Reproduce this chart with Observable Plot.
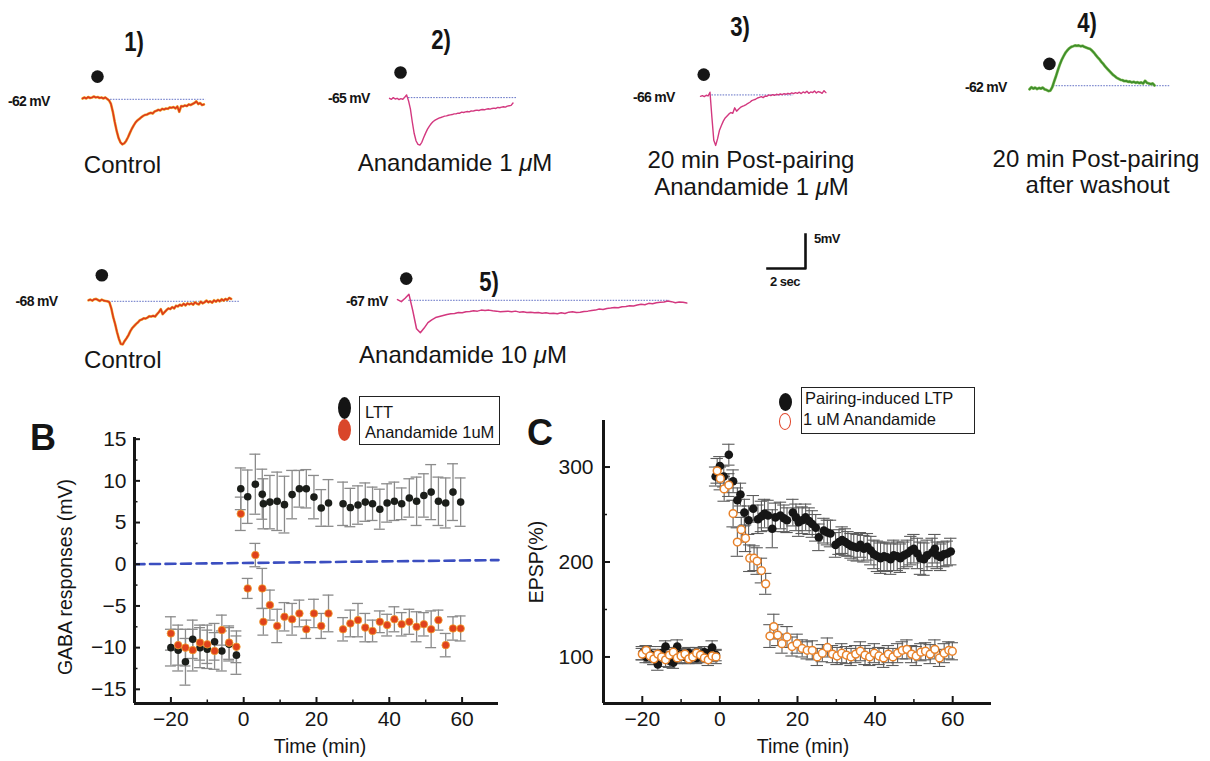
<!DOCTYPE html>
<html>
<head>
<meta charset="utf-8">
<script src="https://cdn.jsdelivr.net/npm/d3@7"></script>
<script src="https://cdn.jsdelivr.net/npm/@observablehq/plot@0.6"></script>
<style>
html,body{margin:0;padding:0;background:#fff;}
#fig{position:relative;width:1210px;height:761px;overflow:hidden;background:#fff;font-family:"Liberation Sans",Arial,Helvetica,sans-serif;color:#151515;}
#fig svg{position:absolute;overflow:visible;}
.t{position:absolute;white-space:nowrap;line-height:1;}
.c{transform:translate(-50%,-50%);}
.l{transform:translate(0,-50%);}
.cap{font-size:24px;line-height:0.88;}
.num{font-size:27px;font-weight:bold;transform:translate(-50%,-50%) scaleX(0.82);}
.mv{font-size:14px;font-weight:bold;letter-spacing:-0.7px;}
.sb{font-size:13px;font-weight:bold;letter-spacing:-0.5px;}
.ax{font-size:19.5px;}
.rot{transform:translate(-50%,-50%) rotate(-90deg);}
.let{font-size:36px;font-weight:bold;}
.leg{font-size:16.5px;}
.box{position:absolute;border:1.3px solid #222;box-sizing:border-box;}
.ell{position:absolute;border-radius:50%;box-sizing:border-box;}
</style>
</head>
<body>
<div id="fig"></div>
<script>
// ---------------- DATA: example traces (mV relative to rest, sampled every dt seconds) ----------------
const ctl1Dt = 0.1;
const ctl1 = [-0.03,0.12,-0.03,0.19,0.04,0.12,0.26,0.12,0.19,0.04,0.12,-0.03,0.12,-0.1,-0.32,
  -0.84,-2.0,-3.5,-4.8,-5.85,-6.5,-6.8,-6.65,-6.3,-5.75,-5.1,-4.5,-4.0,-3.55,-3.25,
  -3.05,-2.8,-2.6,-2.45,-2.4,-2.25,-2.15,-2.25,-1.95,-1.85,-1.7,-1.8,-1.55,-1.65,-1.5,
  -1.55,-1.35,-1.4,-1.3,-1.5,-1.2,-2.0,-1.15,-1.2,-1.05,-1.15,-0.9,-1.0,-0.85,-0.7,
  -0.45,-0.85,-0.7,-1.0,-0.9];
const ana1Dt = 0.1;
const ana1 = [0,-0.15,0.1,-0.1,0,-0.2,-0.05,-0.15,0.15,0.5,-0.35,-1.56,-3.5,-5.2,-6.3,-6.8,-6.9,-6.5,-5.8,-5.14,
  -4.55,-4.1,-3.72,-3.43,-3.23,-3.08,-2.93,-2.84,-2.74,-2.64,-2.6,-2.5,-2.45,-2.4,-2.3,-2.3,-2.2,-2.2,-2.05,-2.1,
  -2.0,-1.95,-2.0,-1.85,-1.9,-1.8,-1.75,-1.8,-1.7,-1.65,-1.7,-1.6,-1.55,-1.6,-1.5,-1.45,-1.5,-1.35,-1.4,-1.3,
  -1.25,-1.3,-1.15,-1.1,-1.05,-0.7];
const postAnaDt = 0.1;
const postAna = [0,0.1,-0.05,0.15,0.05,0.6,-3.1,-6.5,-7.25,-6.25,-5.0,-4.3,-3.67,-3.2,-2.9,-2.6,-2.4,-2.5,-1.7,-2.2,
  -1.9,-1.65,-1.5,-1.37,-1.22,-1.03,-0.88,-0.64,-0.54,-0.44,-0.25,-0.15,-0.05,-0.2,0.05,0,0.2,0.1,0.25,0.15,
  0.3,0.2,0.34,0.25,0.4,0.3,0.44,0.34,0.5,0.4,0.54,0.44,0.6,0.4,0.64,0.5,0.74,0.44,0.64,0.54,
  0.79,0.5,0.7,0.6,0.44,0.83,0.54];
const washDt = 0.1;
const wash = [-0.15,0.15,-0.05,0.1,-0.1,0.05,-0.05,0.1,-0.15,-0.25,-0.4,-0.35,0.15,1.0,1.8,2.7,3.5,4.2,4.75,5.25,
  5.6,5.9,6.1,6.2,6.32,6.27,6.32,6.2,6.27,6.1,6.0,5.9,5.8,5.55,5.25,4.9,4.55,4.26,3.87,3.57,
  3.2,2.9,2.6,2.3,2.0,1.8,1.55,1.4,1.25,1.2,1.06,1.1,0.96,1.0,0.86,0.96,0.81,0.9,0.76,0.86,
  0.71,1.1,0.81,0.71,0.61,0.71,0.42];
const ctl2Dt = 0.1;
const ctl2 = [0,0.1,-0.05,0.15,0.2,0.05,-0.1,0.1,-0.05,-0.1,-0.15,
  -0.3,-1.2,-2.5,-3.5,-4.7,-5.7,-6.45,-6.5,-6.0,-5.6,-5.15,-4.55,-4.1,-3.8,-3.5,-3.25,-2.95,-2.85,-2.65,-2.7,
  -2.55,-2.35,-2.4,-2.3,-2.4,-2.05,-1.75,-1.3,-2.05,-1.75,-1.45,-1.2,-1.3,-1.0,-1.2,-0.8,-0.9,-0.65,-0.8,-0.5,
  -0.75,-0.45,-0.6,-0.45,-0.65,-0.3,-0.5,-0.6,-0.2,-0.45,-0.3,-0.05,-0.3,-0.15,-0.35,0,-0.2,0.05,-0.15,0.15,
  -0.05,0.2,0.05,0.35,0.2];
const ana10Dt = 0.2;
const ana10 = [0.1,-0.2,0.3,0.9,-1.5,-4.2,-4.8,-4.1,-3.3,-2.9,-2.55,-2.4,-2.25,-2.1,-2.0,-1.95,-1.8,-1.85,-1.7,-1.65,
  -1.55,-1.6,-1.45,-1.5,-1.45,-1.55,-1.6,-1.7,-1.65,-1.6,-1.7,-1.6,-1.75,-1.7,-1.8,-1.75,-1.85,-1.8,-1.9,-1.85,
  -1.95,-1.9,-2.0,-1.85,-1.95,-1.75,-1.7,-1.8,-1.75,-1.65,-1.6,-1.5,-1.45,-1.3,-1.35,-1.2,-1.15,-1.05,-1.1,-0.95,
  -0.9,-0.8,-0.85,-0.7,-0.6,-0.65,-0.45,-0.5,-0.35,-0.3,-0.25,-0.1,-0.2,-0.35,-0.25,-0.3,-0.4];
// stimulus time (s) and marker level (mV); rest-line start, end (s) and level (mV)
const stimT   = {ctl1:0.79, ana1:0.58, postAna:0.17, wash:1.05, ctl2:0.7, ana10:0.46};
const stimV   = {ctl1:3.2,  ana1:3.8,  postAna:3.2,  wash:3.6,  ctl2:3.7, ana10:3.2};
const restT1  = {ctl1:1.33, ana1:1.0, postAna:0.6, wash:1.26, ctl2:1.08, ana10:0.59};
const restT2  = {ctl1:6.5,  ana1:6.7, postAna:4.9, wash:7.4,  ctl2:7.93, ana10:14.3};
const restV   = {ctl1:-0.15,ana1:0.1, postAna:0.2, wash:0.38, ctl2:-0.15, ana10:0};
const restLabels = {ctl1:"-62 mV", ana1:"-65 mV", postAna:"-66 mV", wash:"-62 mV", ctl2:"-68 mV", ana10:"-67 mV"};
const scaleBarSec = [0, 2, 2];
const scaleBarMV  = [0, 0, 5];

// ---------------- DATA: panel B (GABA responses, mV) ----------------
const bPreT  = [-20,-18,-16,-14,-12,-10,-8,-6,-4,-2];
const lttPreM = [-10.0,-10.3,-11.7,-9.0,-10.0,-10.2,-9.3,-10.4,-9.6,-10.9];
const lttPreE = [2.2,2.5,2.8,2.3,2.4,2.3,2.2,2.4,2.0,2.3];
const anaPreM = [-8.3,-9.7,-10.0,-10.3,-9.4,-9.6,-10.4,-7.9,-9.4,-9.9];
const anaPreE = [2.0,2.4,2.2,2.5,2.1,2.3,2.2,1.8,2.0,1.9];
const bPostT = [-0.8,1.1,3.2,5.1,5.4,7.2,9.2,11.2,13.3,15.3,17.2,19.3,21.3,23.3,27.3,29.3,31.4,33.4,35.4,37.4,39.4,41.4,43.4,45.5,47.5,49.5,51.5,53.5,55.5,57.5,59.6];
const lttPostM = [9.05,8.1,9.6,8.4,7.25,7.45,7.55,7.15,8.35,9.05,9.05,8.05,6.75,7.35,7.25,6.8,7.1,7.45,7.25,6.6,7.35,7.55,7.25,7.95,7.55,8.25,8.65,7.55,7.35,8.65,7.45];
const lttPostE = [2.5,3.2,3.6,3.0,3.0,3.2,3.5,3.4,2.9,2.2,2.3,2.6,2.2,2.8,2.6,2.3,2.3,2.3,2.0,2.4,2.3,2.3,1.9,2.3,2.9,2.6,3.3,2.9,3.0,3.4,2.9];
const anaPostM = [6.05,-2.9,1.1,-2.9,-6.9,-4.9,-7.4,-6.3,-6.6,-5.9,-7.8,-5.9,-7.4,-5.9,-7.8,-7.1,-6.7,-7.6,-8.0,-6.9,-7.3,-6.6,-7.2,-6.9,-7.5,-7.2,-7.8,-6.7,-9.7,-7.7,-7.7];
const anaPostE = [2.0,1.2,1.4,2.4,1.6,1.8,2.0,1.7,1.9,1.6,1.1,1.7,1.5,2.2,1.4,1.6,2.0,1.7,1.3,1.3,1.3,1.5,1.4,1.5,1.8,1.4,2.2,1.2,1.4,1.4,1.5];
const zeroRefT = [-30, 70];
const zeroRefV = [0, 0.5];
const B_X = [-30, 70], B_Y = [-16.7, 15.2];
const bXTicks = [-20,0,20,40,60], bXMinor = [-10,10,30,50];
const bYTicks = [-15,-10,-5,0,5,10,15], bYMinor = [-12.5,-7.5,-2.5,2.5,7.5,12.5];

// ---------------- DATA: panel C (EPSP, %) ----------------
const cPreT = [-20,-19,-18,-17,-16,-15,-14,-13,-12,-11,-10,-9,-8,-7,-6,-5,-4,-3,-2,-1];
const ltpPre  = [104,100,103,99,92,104,111,96,94,111,103,100,104,101,99,102,105,104,110,102];
const ltpPreE = [7,6,8,7,6,7,6,7,6,7,6,7,6,7,6,7,6,7,7,6];
const anaCPre  = [103,107,101,98,103,100,97,102,105,99,101,103,98,100,104,102,99,97,101,100];
const anaCPreE = [6,5,7,6,5,6,7,6,5,6,7,6,5,6,6,7,5,6,6,7];
const ltpPostT = [-1.1,0,1.0,2.3,3.4,4.5,5.3,6.3,7.4,8.6,9.8,10.7,11.5,12.4,13.5,14.3,15.6,16.5,17.3,18.8,19.6,20.3,21.2,22.1,23.0,23.8,24.7,25.5,26.8,27.7,28.5,29.8,30.7,31.5,32.3,33.0,33.8,34.5,35.4,36.2,37.1,38.0,38.9,39.7,40.6,41.4,42.3,43.1,44.0,44.8,45.7,46.5,47.4,48.3,49.2,50.0,50.9,51.7,52.6,53.4,54.7,55.4,56.0,56.9,57.7,58.6,59.5];
const ltpPost  = [290,301,290,313,285,265,271,252,244,256,245,248,251,249,235,247,249,246,244,252,247,242,244,247,243,240,236,226,233,231,230,218,221,223,221,219,217,216,215,218,214,216,212,208,206,204,206,205,203,207,206,204,207,209,212,214,209,204,203,207,210,214,207,205,208,209,211];
const ltpPostE = [10,10,11,11,12,13,12,14,15,14,15,16,15,16,20,15,14,14,13,14,14,15,14,14,14,14,14,14,13,13,14,13,13,14,14,13,13,14,14,13,14,14,15,15,16,16,15,15,16,16,15,15,14,14,15,15,16,17,17,16,15,15,14,14,13,13,14];
const anaCPostT = [-0.7,0.1,1.1,2.3,3.4,4.5,5.5,6.6,7.7,8.8,9.6,10.7,11.8,12.9,13.9,14.9,16.0,17.3,18.6,19.9,21.2,22.5,23.8,25.1,26.4,27.7,29.0,30.2,31.4,32.6,33.8,35.0,36.2,37.4,38.6,39.8,41.0,42.2,43.4,44.6,45.8,47.0,48.2,49.4,50.6,51.8,53.0,54.2,55.4,56.6,57.8,59.0,59.9];
const anaCPost  = [296,288,277,281,251,221,234,225,204,204,201,191,177,122,132,123,114,121,111,114,109,107,107,100,104,110,103,101,104,102,100,103,106,102,100,104,101,99,103,100,104,107,108,103,101,105,106,103,108,99,104,107,106];
const anaCPostE = [13,12,13,12,14,15,13,14,14,13,14,13,11,12,13,11,10,11,10,10,9,9,10,9,9,10,9,9,10,9,9,9,10,10,9,10,9,10,9,9,10,9,10,9,10,9,9,10,10,9,10,9,9];
const C_X = [-30, 70], C_Y = [51, 349];
const cXTicks = [-20,0,20,40,60], cXMinor = [-10,10,30,50];
const cYTicks = [100,200,300], cYMinor = [150,250];

// ---------------- LAYOUT ----------------
const FONT = '"Liberation Sans", Arial, Helvetica, sans-serif';
const fig = document.getElementById("fig");
function place(node, left, top) { node.style.left = left + "px"; node.style.top = top + "px"; fig.appendChild(node); return node; }
function txt(html, x, y, cls) { const d = document.createElement("div"); d.className = "t " + cls; d.innerHTML = html; return place(d, x, y); }
function box(cls, x, y, w, h, css) { const d = document.createElement("div"); d.className = cls; d.style.width = w + "px"; d.style.height = h + "px"; Object.assign(d.style, css || {}); return place(d, x, y); }

const PX_PER_S = 19, PX_PER_MV = 6.8, V_DOM = [-8, 7.2];
const traceLayout = {
  ctl1:    {left: 81.7,   base: 98.3, span: 6.8,  color: "#dc3a1a", halo: "#f2b23c", w: 1.6},
  ana1:    {left: 389,    base: 97.7, span: 7.0,  color: "#d3387f", halo: null, w: 1.4},
  postAna: {left: 700,    base: 95.7, span: 7.0,  color: "#d3387f", halo: null, w: 1.4},
  wash:    {left: 1029.3, base: 88.3, span: 7.6,  color: "#3f8e2a", halo: "#8cc265", w: 1.8},
  ctl2:    {left: 88.4,   base: 300,  span: 8.2,  color: "#dc3a1a", halo: "#f2b23c", w: 1.6},
  ana10:   {left: 397.3,  base: 300,  span: 15.5, color: "#d3387f", halo: null, w: 1.5}
};
const traceData = {ctl1: [ctl1, ctl1Dt], ana1: [ana1, ana1Dt], postAna: [postAna, postAnaDt], wash: [wash, washDt], ctl2: [ctl2, ctl2Dt], ana10: [ana10, ana10Dt]};

for (const key of Object.keys(traceLayout)) {
  const lay = traceLayout[key];
  const [vals, dt] = traceData[key];
  const pts = vals.map((v, i) => ({s: i * dt, v}));
  const marks = [
    Plot.ruleY([restV[key]], {x1: restT1[key], x2: restT2[key], stroke: "#6573c6", strokeWidth: 1, strokeDasharray: "1.6,1.2"})
  ];
  if (lay.halo) marks.push(Plot.line(pts, {x: "s", y: "v", stroke: lay.halo, strokeWidth: lay.w + 1.1}));
  marks.push(Plot.line(pts, {x: "s", y: "v", stroke: lay.color, strokeWidth: lay.w}));
  marks.push(Plot.dot([{s: stimT[key], v: stimV[key]}], {x: "s", y: "v", r: 6.3, fill: "#161616"}));
  const svg = Plot.plot({
    width: Math.round(lay.span * PX_PER_S), height: Math.round((V_DOM[1] - V_DOM[0]) * PX_PER_MV),
    margin: 0,
    x: {domain: [0, lay.span], axis: null},
    y: {domain: V_DOM, axis: null},
    style: {background: "none", overflow: "visible"},
    marks
  });
  place(svg, lay.left, lay.base - V_DOM[1] * PX_PER_MV);
}

// scale bar (2 sec, 5 mV)
{
  const pts = scaleBarSec.map((s, i) => ({s, v: scaleBarMV[i]}));
  const svg = Plot.plot({
    width: 2 * PX_PER_S + 4, height: 5 * PX_PER_MV + 4,
    marginLeft: 1, marginRight: 3, marginTop: 2, marginBottom: 2,
    x: {domain: [0, 2], axis: null}, y: {domain: [0, 5], axis: null},
    style: {background: "none", overflow: "visible"},
    marks: [Plot.line(pts, {x: "s", y: "v", stroke: "#111", strokeWidth: 2.6, strokeLinecap: "square"})]
  });
  place(svg, 766.7 - 1, 268.3 - 5 * PX_PER_MV - 2);
}

// ---------------- Panel B ----------------
function rows(T, M, E) { return T.map((t, i) => ({t, m: M[i], e: E[i]})); }
function errMarks(data, stroke, sw, cap) {
  return [
    Plot.ruleX(data, {x: "t", y1: d => d.m - d.e, y2: d => d.m + d.e, stroke, strokeWidth: sw}),
    Plot.ruleY(data, {y: d => d.m + d.e, x1: d => d.t - cap, x2: d => d.t + cap, stroke, strokeWidth: sw}),
    Plot.ruleY(data, {y: d => d.m - d.e, x1: d => d.t - cap, x2: d => d.t + cap, stroke, strokeWidth: sw})
  ];
}
const lttRows = [...rows(bPreT, lttPreM, lttPreE), ...rows(bPostT, lttPostM, lttPostE)];
const anaRows = [...rows(bPreT, anaPreM, anaPreE), ...rows(bPostT, anaPostM, anaPostE)];
const zeroRef = zeroRefT.map((t, i) => ({t, v: zeroRefV[i]}));
const AX = "#161616";
const bSvg = Plot.plot({
  width: 520, height: 355, marginLeft: 134, marginTop: 37, marginRight: 22, marginBottom: 52,
  x: {domain: B_X}, y: {domain: B_Y},
  style: {background: "none", overflow: "visible", fontFamily: FONT, fontSize: "21px", color: AX},
  marks: [
    Plot.line(zeroRef, {x: "t", y: "v", stroke: "#3b4ec0", strokeWidth: 2.6, strokeDasharray: "10,5.5"}),
    ...errMarks(lttRows, "#8b8b8b", 1.3, 1.5),
    ...errMarks(anaRows, "#8b8b8b", 1.3, 1.5),
    Plot.dot(lttRows, {x: "t", y: "m", r: 3.8, fill: "#1b1e1a"}),
    Plot.dot(anaRows, {x: "t", y: "m", r: 3.8, fill: "#df421c", stroke: "#f2a32e", strokeWidth: 0.8}),
    Plot.ruleX([B_X[0]], {stroke: AX, strokeWidth: 3}),
    Plot.ruleY([B_Y[0]], {stroke: AX, strokeWidth: 3}),
    Plot.axisY(bYTicks, {tickSize: -6, tickPadding: 14, fontSize: 21, strokeWidth: 2, label: null}),
    Plot.axisY(bYMinor, {tickSize: -3.5, tickPadding: 0, tickFormat: () => "", strokeWidth: 1.5, label: null}),
    Plot.axisX(bXTicks, {tickSize: -6, tickPadding: 14, fontSize: 21, strokeWidth: 2, label: null}),
    Plot.axisX(bXMinor, {tickSize: -3.5, tickPadding: 0, tickFormat: () => "", strokeWidth: 1.5, label: null})
  ]
});
place(bSvg, 0, 400);

// ---------------- Panel C ----------------
const ltpRows = [...rows(cPreT, ltpPre, ltpPreE), ...rows(ltpPostT, ltpPost, ltpPostE)];
const anaCRows = [...rows(cPreT, anaCPre, anaCPreE), ...rows(anaCPostT, anaCPost, anaCPostE)];
const cSvg = Plot.plot({
  width: 490, height: 355, marginLeft: 83, marginTop: 20, marginRight: 19, marginBottom: 52,
  x: {domain: C_X}, y: {domain: C_Y},
  style: {background: "none", overflow: "visible", fontFamily: FONT, fontSize: "21px", color: AX},
  marks: [
    ...errMarks(ltpRows, "#5c5c5c", 1.1, 1.6),
    ...errMarks(anaCRows, "#5c5c5c", 1.1, 1.6),
    Plot.dot(ltpRows, {x: "t", y: "m", r: 4.3, fill: "#161616"}),
    Plot.dot(anaCRows, {x: "t", y: "m", r: 3.9, fill: "#fff", stroke: "#e8822a", strokeWidth: 1.5}),
    Plot.ruleX([C_X[0]], {stroke: AX, strokeWidth: 3}),
    Plot.ruleY([C_Y[0]], {stroke: AX, strokeWidth: 3}),
    Plot.axisY(cYTicks, {tickSize: -7, tickPadding: 17, fontSize: 21, strokeWidth: 2, label: null}),
    Plot.axisY(cYMinor, {tickSize: -4, tickPadding: 0, tickFormat: () => "", strokeWidth: 1.5, label: null}),
    Plot.axisX(cXTicks, {tickSize: -7, tickPadding: 15, fontSize: 21, strokeWidth: 2, label: null}),
    Plot.axisX(cXMinor, {tickSize: -4, tickPadding: 0, tickFormat: () => "", strokeWidth: 1.5, label: null})
  ]
});
place(cSvg, 520, 400);

// ---------------- TEXT ----------------
txt("1)", 134.4, 41.7, "num");
txt("2)", 440.9, 40, "num");
txt("3)", 740, 27, "num");
txt("4)", 1086.5, 23, "num");
txt("5)", 489, 281.7, "num");

txt("Control", 122.5, 165, "c cap");
txt("Anandamide 1 <i>&mu;</i>M", 455, 163.3, "c cap");
txt("20 min Post-pairing", 751, 160, "c cap");
txt("Anandamide 1 <i>&mu;</i>M", 751.5, 186.7, "c cap");
txt("20 min Post-pairing", 1096, 158.5, "c cap");
txt("after washout", 1097.6, 185, "c cap");
txt("Control", 122.8, 360, "c cap");
txt("Anandamide 10 <i>&mu;</i>M", 463, 355, "c cap");

txt(restLabels.ctl1, 8, 101, "l mv");
txt(restLabels.ana1, 328, 97.7, "l mv");
txt(restLabels.postAna, 633, 96.7, "l mv");
txt(restLabels.wash, 965, 86.7, "l mv");
txt(restLabels.ctl2, 15.6, 301, "l mv");
txt(restLabels.ana10, 346, 301, "l mv");

txt("5mV", 814, 238, "l sb");
txt("2 sec", 770, 281, "l sb");

txt("B", 43, 438, "c let");
txt("C", 540, 433, "c let");
txt("GABA responses (mV)", 66, 577, "rot ax");
txt("Time (min)", 320, 747, "c ax");
txt("EPSP(%)", 537, 562, "rot ax");
txt("Time (min)", 803, 747, "c ax");

// legend B
box("ell", 337.5, 396.7, 13, 22, {background: "#141414"});
box("ell", 337.5, 419, 13, 22, {background: "#d9462a"});
box("box", 359, 396, 141, 49);
txt("LTT", 365, 411.7, "l leg");
txt("Anandamide 1uM", 365, 431.7, "l leg");

// legend C
box("ell", 778.5, 392.5, 13, 18, {background: "#141414"});
box("ell", 778.8, 413.3, 12.5, 17, {background: "#fff", border: "1.6px solid #e0452a"});
box("box", 801, 387, 174, 47);
txt("Pairing-induced LTP", 805, 398, "l leg");
txt("1 uM Anandamide", 803, 419, "l leg");
</script>
</body>
</html>
